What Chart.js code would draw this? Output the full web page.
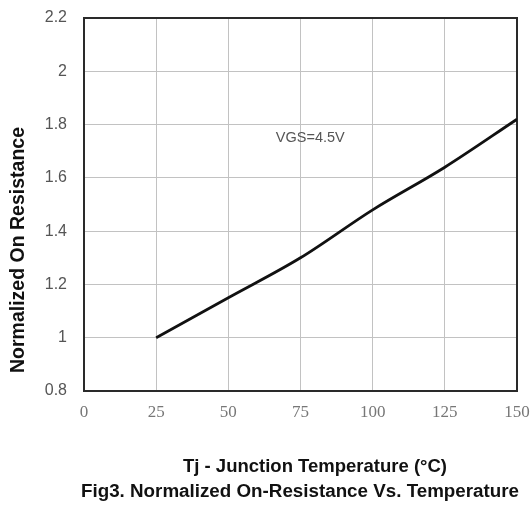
<!DOCTYPE html>
<html>
<head>
<meta charset="utf-8">
<script src="https://cdn.jsdelivr.net/npm/chart.js@4"></script>
<style>
  html, body { margin: 0; padding: 0; background: #fff; }
</style>
</head>
<body>
<canvas id="myChart" width="532" height="505"></canvas>
<script>
// data
var temps = [25, 50, 75, 100, 125, 150];
var resistance = [1.0, 1.15, 1.30, 1.48, 1.64, 1.82];
var xTicks = [0, 25, 50, 75, 100, 125, 150];
var yTicks = [0.8, 1, 1.2, 1.4, 1.6, 1.8, 2, 2.2];
var curveLabel = 'VGS=4.5V';
var xTitle = 'Tj - Junction Temperature (°C)';
var yTitle = 'Normalized On Resistance';
var figCaption = 'Fig3. Normalized On-Resistance Vs. Temperature';

var sans = '"Liberation Sans", Arial, sans-serif';
var serif = '"Liberation Serif", "Times New Roman", serif';

// frame + text labels
var decorations = {
    id: 'decorations',
    beforeDatasetsDraw: function(chart) {
        var a = chart.chartArea, ctx = chart.ctx;
        ctx.save();
        ctx.strokeStyle = '#2a2a2a';
        ctx.lineWidth = 2;
        ctx.strokeRect(a.left, a.top, a.right - a.left, a.bottom - a.top);
        ctx.restore();
    },
    afterDraw: function(chart) {
        var ctx = chart.ctx;
        var xs = chart.scales.x, ys = chart.scales.y;
        ctx.save();
        ctx.textAlign = 'center';
        ctx.textBaseline = 'middle';

        ctx.fillStyle = '#555';
        ctx.font = '14.5px ' + sans;
        ctx.fillText(curveLabel, xs.getPixelForValue(78.4), ys.getPixelForValue(1.75));

        ctx.fillStyle = '#111';
        ctx.font = 'bold 18.5px ' + sans;
        ctx.fillText(xTitle, 315, 467);
        ctx.font = 'bold 18.8px ' + sans;
        ctx.fillText(figCaption, 300, 492);

        ctx.font = 'bold 19.5px ' + sans;
        ctx.translate(19, 250);
        ctx.rotate(-Math.PI / 2);
        ctx.fillText(yTitle, 0, 0);
        ctx.restore();
    }
};

var ctx = document.getElementById('myChart').getContext('2d');
var chart = new Chart(ctx, {
    type: 'line',
    data: {
        datasets: [{
            label: curveLabel,
            data: temps.map(function(t, i) { return { x: t, y: resistance[i] }; }),
            borderColor: '#111',
            borderWidth: 2.8,
            pointRadius: 0,
            cubicInterpolationMode: 'monotone',
            fill: false
        }]
    },
    options: {
        responsive: false,
        animation: false,
        devicePixelRatio: 1,
        layout: { padding: { top: 18, right: 15, left: 0, bottom: 0 } },
        plugins: { legend: { display: false }, tooltip: { enabled: false } },
        scales: {
            x: {
                type: 'linear',
                min: xTicks[0],
                max: xTicks[xTicks.length - 1],
                afterBuildTicks: function(s) { s.ticks = xTicks.map(function(v) { return { value: v }; }); },
                afterFit: function(s) { s.height = 114; s.paddingLeft = 0; s.paddingRight = 0; },
                grid: { color: '#c2c2c2', lineWidth: 1, drawTicks: false },
                border: { display: false },
                ticks: { color: '#777', padding: 11, font: { family: serif, size: 17 } }
            },
            y: {
                min: yTicks[0],
                max: yTicks[yTicks.length - 1],
                afterBuildTicks: function(s) { s.ticks = yTicks.map(function(v) { return { value: v }; }); },
                afterFit: function(s) { s.width = 84; s.paddingTop = 0; s.paddingBottom = 0; },
                grid: { color: '#c2c2c2', lineWidth: 1, drawTicks: false },
                border: { display: false },
                ticks: {
                    color: '#555',
                    padding: 17,
                    font: { family: sans, size: 16 },
                    callback: function(v) { return String(Math.round(v * 10) / 10); }
                }
            }
        }
    },
    plugins: [decorations]
});
</script>
</body>
</html>
